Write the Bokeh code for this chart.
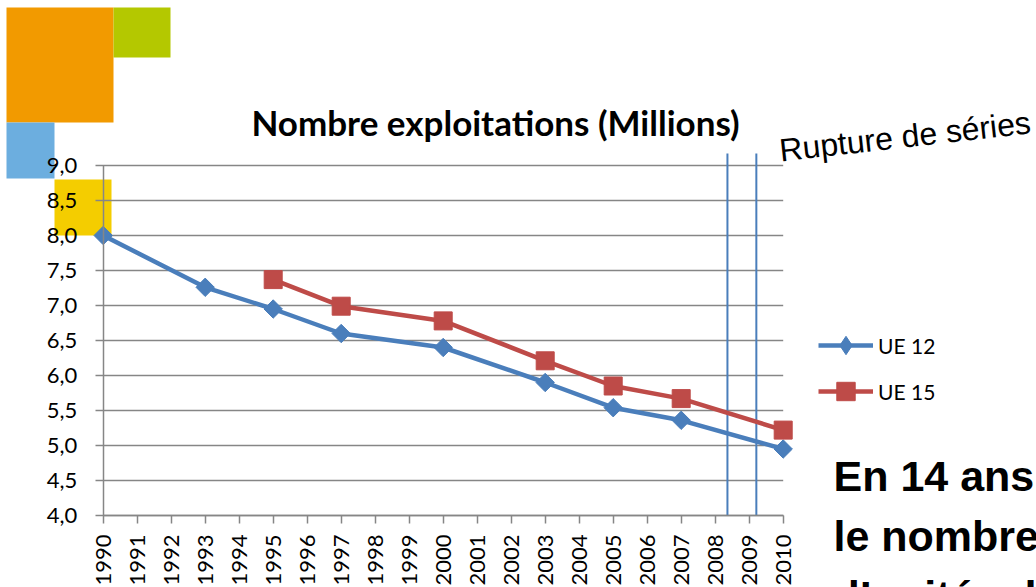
import math
from bokeh.plotting import figure
from bokeh.models import (FixedTicker, BoxAnnotation, Label, Legend, LegendItem, LinearAxis)
from bokeh.embed import file_html
from bokeh.resources import INLINE

# ---------------- data ----------------
years = list(range(1990, 2011))
year_labels = [str(y) for y in years]
ue12_years = [1990, 1993, 1995, 1997, 2000, 2003, 2005, 2007, 2010]
ue12_values = [8.00, 7.26, 6.95, 6.60, 6.40, 5.90, 5.54, 5.36, 4.95]
ue15_years = [1995, 1997, 2000, 2003, 2005, 2007, 2010]
ue15_values = [7.37, 6.99, 6.78, 6.21, 5.85, 5.67, 5.22]
y_ticks = [4.0, 4.5, 5.0, 5.5, 6.0, 6.5, 7.0, 7.5, 8.0, 8.5, 9.0]
y_tick_labels = ["4,0", "4,5", "5,0", "5,5", "6,0", "6,5", "7,0", "7,5", "8,0", "8,5", "9,0"]
rupture_positions = [2008.36, 2009.21]
series_names = ["UE 12", "UE 15"]
title_text = "Nombre exploitations (Millions)"
rupture_text = "Rupture de séries"
side_text = ["En 14 ans", "le nombre", "d\u2019unités de"]

# ---------------- layout helpers (page pixel -> data) ----------------
PX_1990 = 102.7
PX_PER_YEAR = 34.0
PY_9 = 165.0
PX_PER_UNIT = 70.0

def dx(px):
    return years[0] + (px - PX_1990) / PX_PER_YEAR

def dy(py):
    return y_ticks[-1] + (PY_9 - py) / PX_PER_UNIT

GRAY = "#868686"
BLUE = "#4A7EBB"
RED = "#BE4B48"

W, H = 1036, 587
p = figure(width=W, height=H, output_backend="svg", toolbar_location=None,
           x_range=(dx(0), dx(W)), y_range=(dy(H), dy(0)),
           x_axis_location=None, y_axis_location=None,
           min_border=0, min_border_left=0, min_border_right=0,
           min_border_top=0, min_border_bottom=0)
p.outline_line_color = None
p.background_fill_color = "white"
p.border_fill_color = "white"
p.grid.visible = False

# decorative squares (behind everything)
deco = [
    ((6, 113, 7, 122), "#F29A00"),
    ((113, 170, 7, 57), "#B4C800"),
    ((6, 54, 122, 178), "#6CAEDF"),
    ((54, 111, 179, 235), "#F4CD00"),
]
for (l, r, t, b), c in deco:
    p.add_layout(BoxAnnotation(left=dx(l), right=dx(r), top=dy(t), bottom=dy(b),
                               fill_color=c, fill_alpha=1.0, line_color=None, level="image"))

# horizontal gridlines at the y ticks, from the outer tick mark to the last category
p.segment(x0=[dx(95)] * len(y_ticks), x1=[years[-1]] * len(y_ticks),
          y0=y_ticks, y1=y_ticks, line_color=GRAY, line_width=1.5)

# axes at fixed locations
yax = LinearAxis(fixed_location=years[0], ticker=FixedTicker(ticks=y_ticks, minor_ticks=[]),
                 bounds=(y_ticks[0], y_ticks[-1]))
yax.major_label_overrides = {t: s for t, s in zip(y_ticks, y_tick_labels)}
yax.axis_line_color = GRAY
yax.axis_line_width = 1.5
yax.major_tick_line_color = None
yax.major_tick_out = 0
yax.major_tick_in = 0
yax.minor_tick_line_color = None
yax.minor_tick_out = 0
yax.major_label_standoff = 26
yax.major_label_text_font = "Lato"
yax.major_label_text_font_size = "22px"
yax.major_label_text_color = "black"
p.add_layout(yax, "left")

xax = LinearAxis(fixed_location=y_ticks[0], ticker=FixedTicker(ticks=years, minor_ticks=[]),
                 bounds=(years[0], years[-1]))
xax.major_label_overrides = {y: s for y, s in zip(years, year_labels)}
xax.axis_line_color = GRAY
xax.axis_line_width = 1.5
xax.major_tick_line_color = GRAY
xax.major_tick_line_width = 1.5
xax.major_tick_out = 8
xax.major_tick_in = 0
xax.minor_tick_line_color = None
xax.minor_tick_out = 0
xax.major_label_standoff = 11
xax.major_label_orientation = math.pi / 2
xax.major_label_text_font = "Lato"
xax.major_label_text_font_size = "22px"
xax.major_label_text_color = "black"
p.add_layout(xax, "below")

# keep the far-left page edge clean
p.add_layout(BoxAnnotation(left=dx(-20), right=dx(5), top=dy(150), bottom=dy(530),
                           fill_color="white", fill_alpha=1.0, line_color=None, level="overlay"))

# series-break lines
p.segment(x0=rupture_positions, x1=rupture_positions,
          y0=[y_ticks[0]] * len(rupture_positions), y1=[dy(153)] * len(rupture_positions),
          line_color=BLUE, line_width=2)

# series
l12 = p.line(ue12_years, ue12_values, line_color=BLUE, line_width=4.5)
s12 = p.scatter(ue12_years, ue12_values, marker="square", angle=math.pi / 4, size=13,
                fill_color=BLUE, line_color=BLUE)
l15 = p.line(ue15_years, ue15_values, line_color=RED, line_width=4.5)
s15 = p.scatter(ue15_years, ue15_values, marker="square", size=18,
                fill_color=RED, line_color=RED)
# legend sample symbol for the diamond series (placed off-canvas, shown only in the legend)
k12 = p.scatter(x=[dx(-500)], y=[dy(-500)], marker="diamond", size=18,
                fill_color=BLUE, line_color=BLUE)

legend = Legend(items=[LegendItem(label=series_names[0], renderers=[l12, k12]),
                       LegendItem(label=series_names[1], renderers=[l15, s15])],
                location=(818, H - 414), orientation="vertical",
                glyph_width=55, glyph_height=46, spacing=0, padding=0, margin=0,
                label_standoff=5, label_text_font="Lato", label_text_font_size="21px",
                label_text_color="black", border_line_color=None, background_fill_alpha=0)
p.add_layout(legend, "center")

# texts (anchored at the vertical middle of the text)
p.add_layout(Label(x=dx(495), y=dy(121), text=title_text, text_font="Lato",
                   text_font_style="bold", text_font_size="35px", text_align="center",
                   text_baseline="middle", text_color="black"))
p.add_layout(Label(x=dx(779), y=dy(150), text=rupture_text, text_font="Liberation Sans",
                   text_font_size="32px", angle=0.112, text_align="left",
                   text_baseline="middle", text_color="black"))
for t, mid in zip(side_text, [475, 535, 595]):
    p.add_layout(Label(x=dx(833), y=dy(mid), text=t, text_font="Liberation Sans",
                       text_font_style="bold", text_font_size="43px", text_align="left",
                       text_baseline="middle", text_color="black"))

open("out.html", "w").write(file_html(p, INLINE))
